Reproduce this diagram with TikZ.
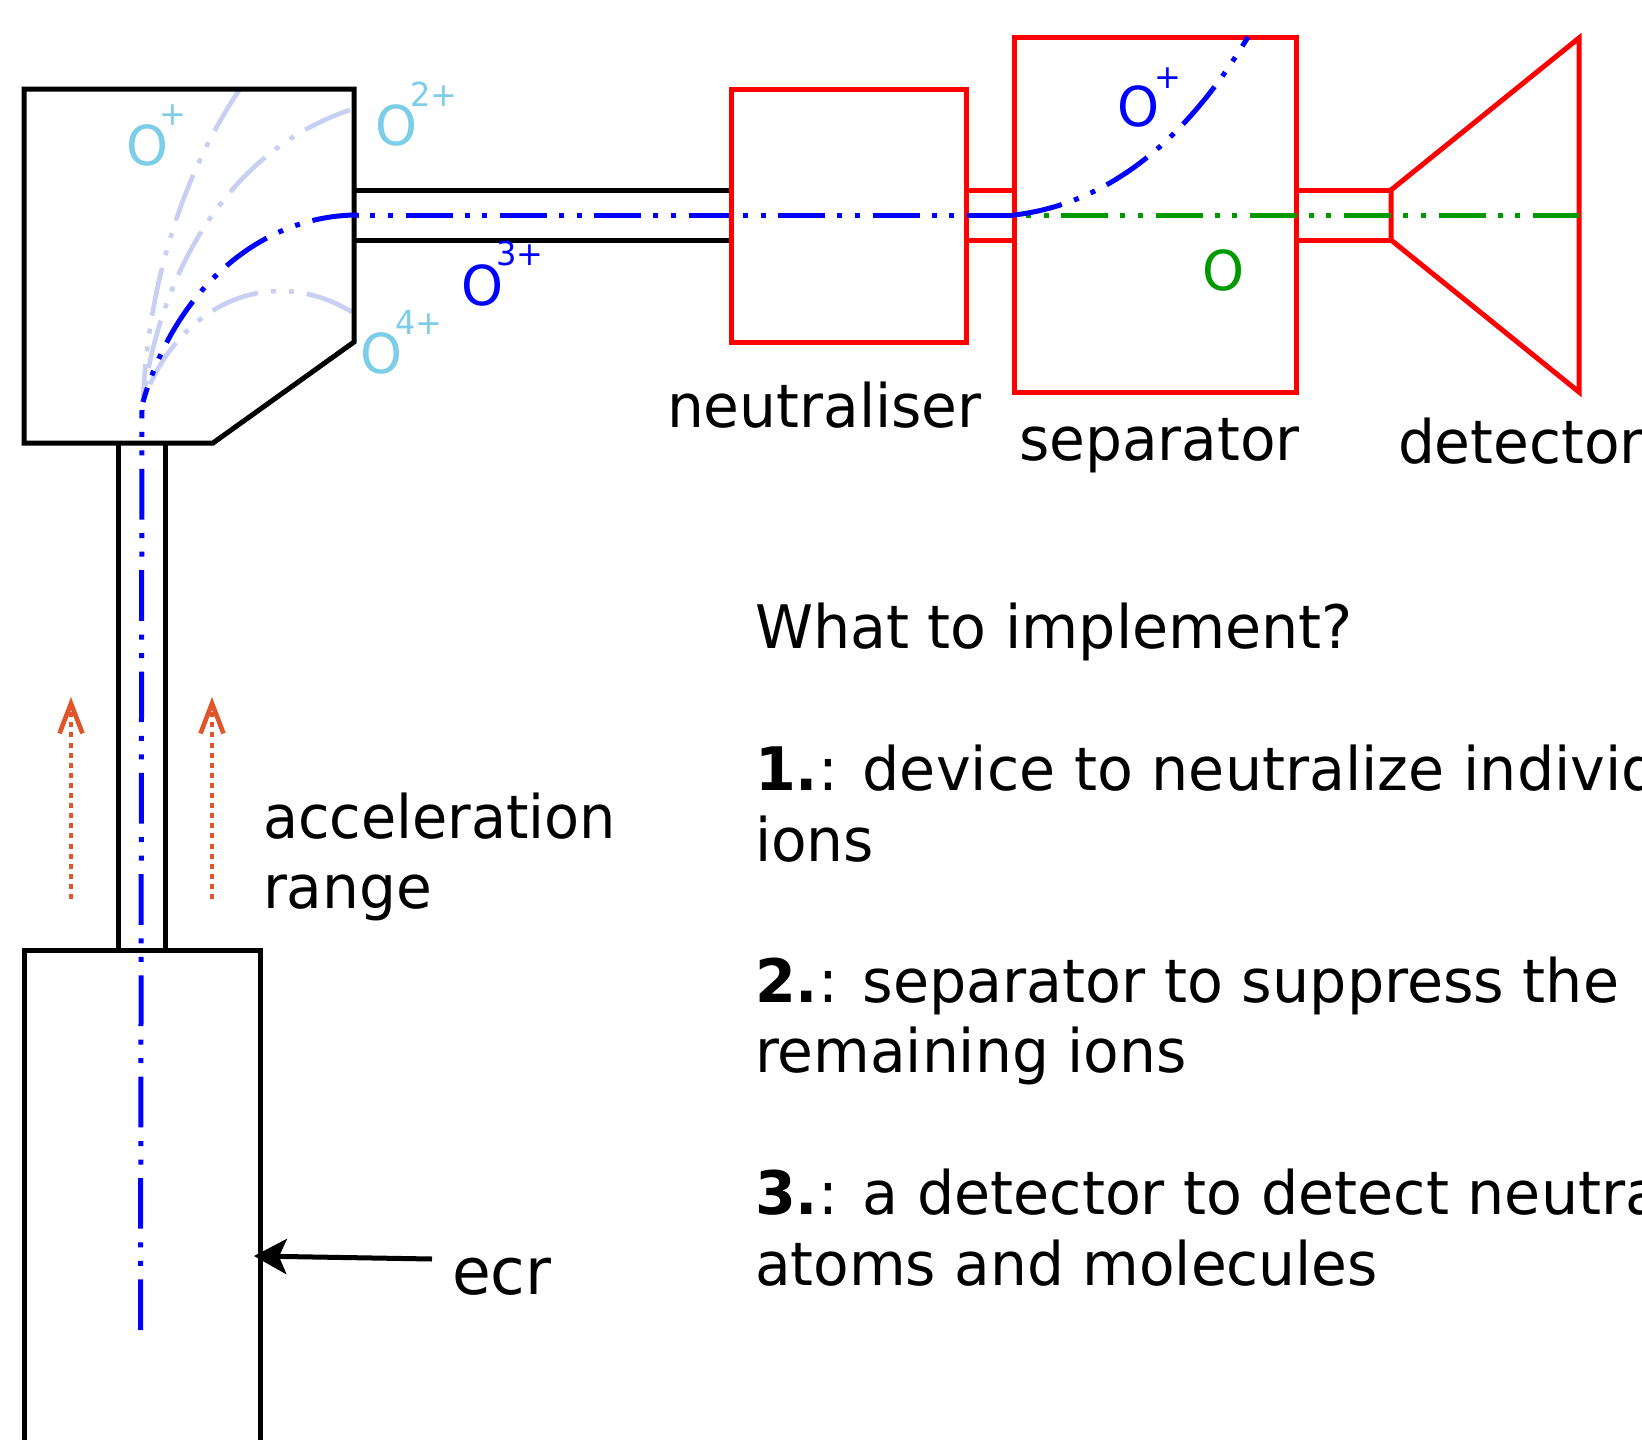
\documentclass[tikz,border=0pt]{standalone}
\usepackage{fontspec}
\setmainfont[FakeStretch=0.97]{DejaVu Sans}
\newfontfamily\bodyfont[FakeStretch=0.978]{DejaVu Sans}
\newfontfamily\narrowfont[FakeStretch=0.955]{DejaVu Sans}
\usetikzlibrary{arrows.meta}
\definecolor{beamblue}{HTML}{0000FF}
\definecolor{beamgreen}{HTML}{009900}
\definecolor{faded}{HTML}{C9CFF3}
\definecolor{ioncyan}{HTML}{7BCDE8}
\definecolor{fieldorange}{HTML}{E0562A}
\tikzset{
  blackline/.style={draw=black,line width=5pt,line join=miter},
  redline/.style={draw=red,line width=5pt,line join=miter},
  beam/.style={line width=5pt},
  horizdash/.style={dash pattern=on 47pt off 12pt on 5pt off 12.5pt on 5pt off 12.8pt},
  curvedash/.style={dash pattern=on 49pt off 13pt on 5pt off 13pt on 5pt off 13pt},
  fadedbeam/.style={draw=faded,line width=4.6pt,curvedash},
  txt/.style={anchor=base west,inner sep=0pt,outer sep=0pt,font=\fontsize{60}{70}\selectfont},
  bodytxt/.style={txt,font=\bodyfont\fontsize{60}{70}\selectfont},
  ion/.style={anchor=base west,inner sep=0pt,outer sep=0pt,font=\fontsize{55}{60}\selectfont},
  sup/.style={anchor=base west,inner sep=0pt,outer sep=0pt,font=\fontsize{33}{36}\selectfont},
  field/.style={draw=fieldorange,line width=4.6pt,dash pattern=on 5pt off 5.1pt,-{Straight Barb[length=30pt,width=23pt,line width=4.6pt]}},
}
\begin{document}
\begin{tikzpicture}[x=1pt,y=-1pt]
\useasboundingbox (0,0) rectangle (1642,1440);
\clip (0,0) rectangle (1642,1440);
\fill[white] (0,0) rectangle (1642,1440);
% key points
\coordinate (src) at (140.5,1330);
\coordinate (bendlow) at (142,410);
\coordinate (bend) at (143,402);
\coordinate (bendend) at (358,215);
\coordinate (tubeend) at (731,215);
\coordinate (neutout) at (743,215);
\coordinate (sepin) at (1014,215);
\coordinate (sepout) at (1248,37);
\coordinate (detend) at (1579,215);
% faded beams
\draw[fadedbeam] (240,89) .. controls (185,170) and (148,280) .. (bend);
\draw[fadedbeam] (350,110) .. controls (230,150) and (160,270) .. (bend);
\draw[fadedbeam] (352,312) .. controls (265,260) and (175,310) .. (bend);
% black magnet, tubes, source
\draw[blackline] (24,89) -- (354,89) -- (354,342) -- (213,443) -- (24,443) -- cycle;
\draw[blackline] (354,190) -- (731,190);
\draw[blackline] (354,240) -- (731,240);
\draw[blackline] (118,443) -- (118,950);
\draw[blackline] (165,443) -- (165,950);
\draw[blackline] (24,1450) -- (24,950) -- (260,950) -- (260,1450);
% beams under the neutraliser frame
\draw[beam,draw=beamblue,horizdash,dash phase=94.3pt-47.7pt] (bendend) -- (tubeend);
% red parts
\draw[redline] (731,89) rectangle (966,342);
\draw[redline] (1014,37.5) rectangle (1296,392);
\draw[redline] (966,190) -- (1014,190);
\draw[redline] (966,240) -- (1014,240);
\draw[redline] (1296,190) -- (1391,190);
\draw[redline] (1296,240) -- (1391,240);
\draw[redline] (1391,190) -- (1579,38) -- (1579,392) -- (1391,240) -- cycle;
% beams
\draw[beam,draw=beamgreen,horizdash,dash phase=47pt] (sepin) -- (detend);
\draw[beam,draw=beamblue,dash pattern=on 50.7pt off 13.5pt on 5pt off 13.5pt on 5pt off 13.6pt] (src) -- (bendlow);
\draw[beam,draw=beamblue,curvedash,dash phase=34pt] (bend) .. controls (175,290) and (260,215) .. (bendend);
\draw[beam,draw=beamblue,horizdash,dash phase=59pt] (neutout) -- (sepin);
\draw[beam,draw=beamblue,curvedash] (sepin) .. controls (1100,205) and (1180,150) .. (sepout);
% field arrows
\coordinate (fa1) at (71,899); \coordinate (fb1) at (71,697);
\coordinate (fa2) at (212,899); \coordinate (fb2) at (212,697);
\draw[field] (fa1) -- (fb1);
\draw[field] (fa2) -- (fb2);
% texts
\node[ion,text=ioncyan] (op) at (126,165) {O};
\node[sup,text=ioncyan] (opsup) at (159,125) {+};
\node[ion,text=ioncyan] (otwo) at (375,145) {O};
\node[sup,text=ioncyan] (otwosup) at (410,106) {2+};
\node[ion,text=ioncyan] (ofour) at (360,373) {O};
\node[sup,text=ioncyan] (ofoursup) at (395,334) {4+};
\node[ion,text=beamblue] (othree) at (461,305) {O};
\node[sup,text=beamblue] (othreesup) at (496,265) {3+};
\node[ion,text=beamblue] (osep) at (1117,126) {O};
\node[sup,text=beamblue] (osepsup) at (1154,88) {+};
\node[ion,text=beamgreen] (ogreen) at (1202,290) {O};
\node[txt] (neut) at (667,427) {neutraliser};
\node[txt] (sepr) at (1019,460) {separator};
\node[txt] (dete) at (1398,463) {detector};
\node[txt,font=\narrowfont\fontsize{60}{70}\selectfont] (accel) at (263,838) {acceleration};
\node[txt] (rang) at (263,908) {range};
\node[txt,font=\fontsize{65}{70}\selectfont] (ecr) at (452,1294) {ecr};
\node[bodytxt] (q) at (755,648) {What to implement?};
\node[bodytxt] (a1) at (755,790) {\textbf{1.}: device to neutralize individual};
\node[txt] (a1b) at (755,861) {ions};
\node[bodytxt] (a2) at (755,1002) {\textbf{2.}: separator to suppress the};
\node[txt] (a2b) at (755,1072) {remaining ions};
\node[bodytxt] (a3) at (755,1214) {\textbf{3.}: a detector to detect neutral};
\node[txt] (a3b) at (755,1285) {atoms and molecules};
% ecr pointer
\coordinate (ecrtail) at (432,1259);
\coordinate (ecrtip) at (254,1256);
\draw[draw=black,line width=5pt,-{Stealth[length=33pt,width=36pt,inset=8pt,line width=0pt]}] (ecrtail) -- (ecrtip);
\end{tikzpicture}
\end{document}
